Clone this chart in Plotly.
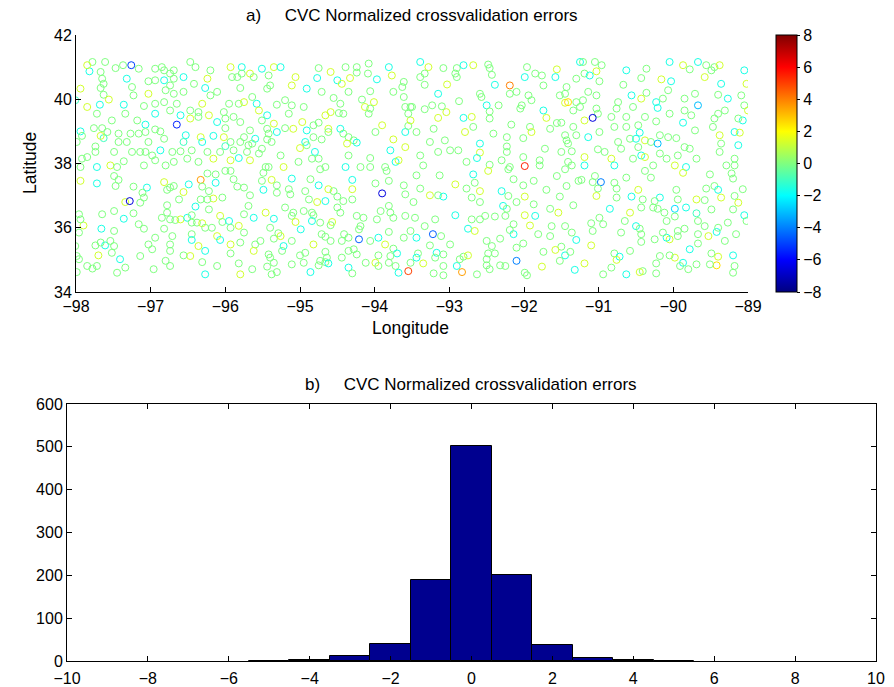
import plotly.graph_objects as go

# Station locations (lon, lat) and normalized cross-validation error, read region by region
STATIONS_NW = [
(-97.78,41.16,0),(-97.61,41.16,0),(-97.82,40.87,-1.6),(-97.85,41.06,1.3),(-97.67,40.85,0),(-97.47,40.97,0),(-97.37,41.06,0),(-97.26,41.06,-5),
(-97.16,40.95,0),(-96.94,40.95,0),(-96.85,41.00,0),(-96.82,40.90,0),(-96.74,40.80,0),(-96.69,40.90,0),(-96.47,41.16,0),(-96.40,41.00,0),
(-96.20,40.90,0),(-95.93,41.00,1.3),(-95.78,41.00,-1.6),(-95.78,40.80,0),(-95.91,40.69,0),(-95.84,40.69,0),(-96.24,40.64,1.3),(-96.56,40.69,-1.6),
(-96.69,40.64,0),(-96.82,40.59,-1.6),(-96.94,40.59,0),(-97.03,40.56,0),(-97.32,40.64,-1.6),(-97.65,40.64,0),(-97.63,40.48,0),(-97.94,40.33,1.3),
(-97.67,40.35,0),(-97.25,40.38,0),(-96.27,40.35,-1.6),(-96.42,40.48,0),(-95.80,40.35,0),(-96.80,40.28,0),(-96.69,40.17,0),(-96.56,40.23,0),
(-96.74,40.43,0),(-97.03,40.17,1.3),(-97.23,40.12,0),(-97.63,40.14,0),(-97.56,39.99,1.3),(-97.36,39.83,-1.6),(-98.01,39.97,-1),(-97.85,39.76,1.3),
(-97.68,39.83,-1.6),(-97.72,39.55,0),(-97.09,39.79,0),(-96.94,39.86,0),(-96.82,39.91,0),(-96.94,39.55,-1.6),(-96.74,39.65,0),(-96.60,39.50,-1.6),
(-96.65,39.86,0),(-96.47,39.65,0),(-96.36,39.60,0),(-96.36,39.45,0),(-96.22,39.50,1.3),(-96.20,40.12,0),(-96.11,40.23,0),(-96.31,39.86,1.3),
(-95.95,39.86,0),(-95.82,39.86,0),(-95.75,39.91,1.3),(-96.02,39.60,0),(-96.00,39.40,0),(-95.89,39.45,0),(-96.11,39.29,-1.6),(-95.80,39.29,0),
(-96.47,39.40,1.3),(-96.65,39.21,-5.5),(-97.07,39.21,-1.6),(-97.18,39.34,0),(-97.34,39.55,0),(-97.52,39.34,0),(-97.65,39.10,0),(-97.76,39.10,0),
(-97.94,39.00,-1.6),(-97.92,38.86,0),(-97.58,38.98,0),(-97.43,38.93,0),(-97.27,38.93,0),(-97.16,38.93,0),(-97.07,38.98,0),(-96.94,39.06,0),
(-96.87,39.00,0),(-96.53,38.88,-1.6),(-96.33,38.82,1.3),(-96.31,38.67,-1.6),(-96.16,38.86,-1.6),(-96.00,39.10,0),(-96.02,38.82,1.3),(-95.93,38.67,0),
(-95.80,38.67,0),(-95.75,38.82,0),(-96.00,38.54,-1),(-96.56,38.67,-1),(-96.82,38.77,0),(-97.03,38.67,0),(-97.32,38.67,0),(-97.43,38.67,0),
(-97.63,38.79,-1),(-97.67,38.86,1.3),(-97.74,38.53,0),(-97.99,38.67,0),(-97.85,38.20,0),(-97.92,38.15,0),(-97.74,38.36,0),(-97.49,38.36,0),
(-97.36,38.07,0),(-97.25,38.36,0),(-97.14,38.36,0),(-97.07,38.36,0),(-96.98,38.25,0),(-96.87,38.41,-1.6),(-96.71,38.36,0),(-96.60,38.38,0),
(-96.45,38.41,0),(-96.24,38.36,0),(-96.07,38.36,0),(-95.89,38.41,0),(-95.82,38.17,-1.6),(-95.93,38.10,1.3),(-96.16,38.15,1.3),(-96.36,38.05,0),
(-96.51,38.15,0),(-96.69,38.05,0),(-96.94,38.10,0),(-97.09,37.94,0),(-97.54,37.94,1.3),(-97.72,37.89,-1.6),(-97.45,37.89,0),(-97.94,37.89,0),
(-96.80,37.94,0),
]

STATIONS_NC = [
(-95.67,40.80,1.3),(-95.62,40.69,0),(-95.51,40.95,-1.6),(-95.42,40.74,0),(-95.35,41.00,1.3),(-95.26,41.00,-1.6),(-95.06,40.69,1.3),(-95.11,40.43,1.3),
(-95.40,40.43,0),(-95.44,40.33,0),(-94.91,40.33,-1.6),(-94.75,40.97,0),(-94.77,40.66,-1.6),(-94.59,40.85,1.3),(-94.50,40.59,-1.6),(-94.44,40.48,1.3),
(-94.39,41.00,0),(-94.33,40.66,1.3),(-94.24,41.00,0),(-94.24,40.83,0),(-94.08,41.11,0),(-94.09,40.80,0),(-93.97,40.62,-1.6),(-93.81,41.00,-1.6),
(-93.77,40.74,1.3),(-93.61,40.54,0),(-93.63,40.38,0),(-93.75,40.23,0),(-93.61,40.07,0),(-94.71,40.23,0),(-94.35,40.23,0),(-94.06,40.25,0),
(-94.55,40.04,0),(-94.46,39.86,0),(-94.59,39.60,1.3),(-94.48,39.57,0),(-94.42,39.55,0),(-94.17,39.99,0),(-94.13,39.76,1.3),(-94.01,39.91,1.3),
(-94.06,39.71,0),(-94.08,39.55,0),(-95.64,40.07,0),(-95.58,39.86,-1.6),(-95.55,39.65,1.3),(-95.31,39.83,0),(-95.20,39.97,0),(-95.11,39.81,0),
(-95.15,39.55,0),(-94.95,39.76,0),(-95.44,39.50,-1.6),(-95.51,39.34,0),(-95.67,39.03,0),(-95.35,39.24,1.3),(-95.31,38.98,-1.6),(-95.44,39.08,0),
(-95.42,38.93,0),(-95.20,39.10,0),(-95.09,39.08,1.3),(-94.97,39.29,1.3),(-94.91,39.03,-1.6),(-94.82,39.19,0),(-94.75,39.27,0),(-94.66,39.50,1.3),
(-94.62,39.08,1.3),(-94.62,38.98,0),(-94.46,39.08,-1.6),(-94.42,38.93,0),(-94.35,38.82,0),(-94.28,38.72,0),(-94.37,38.62,1.3),(-94.24,38.65,-1.6),
(-94.82,38.82,0),(-94.71,38.75,0),(-94.93,38.67,-1.6),(-94.91,38.57,0),(-95.00,38.48,1.3),(-94.80,38.36,-1.6),(-94.84,38.15,0),(-94.75,38.15,0),
(-95.26,38.25,0),(-95.44,38.75,0),(-95.38,38.67,0),(-95.60,38.77,-1.6),(-95.64,38.62,0),(-95.69,38.57,0),(-95.71,38.36,0),(-95.51,38.46,0),
(-95.55,38.31,0),(-95.67,38.10,1.3),(-95.46,37.89,0),(-95.42,37.89,0),(-95.22,37.89,1.3),(-95.02,38.05,0),(-94.66,37.89,0),(-94.39,37.89,-1.6),
(-94.35,38.25,0),(-94.06,38.17,0),(-93.99,38.98,0),(-93.90,39.19,1.3),(-93.75,38.75,1.3),(-93.59,38.98,-1.6),(-93.55,39.17,0),(-93.52,39.34,1.3),
(-93.55,39.55,0),(-93.52,39.76,0),(-93.59,39.76,0),(-93.79,38.41,-1.6),(-93.72,38.05,-1.6),(-93.68,38.10,1.3),(-93.59,38.51,1.3),(-93.86,37.89,0),
(-94.06,37.89,0),(-94.19,37.89,0),
]

STATIONS_NE1 = [
(-93.39,41.16,-1.6),(-93.28,41.00,1.3),(-93.39,40.69,0),(-93.33,40.80,0),(-93.33,40.45,0),(-93.08,40.97,0),(-92.90,40.97,0),(-92.81,41.06,-1.6),
(-92.68,41.06,1.3),(-92.92,40.80,0),(-92.90,40.69,0),(-92.48,41.08,0),(-92.46,40.97,0),(-92.43,40.76,0),(-92.39,40.45,-1.6),(-92.19,40.43,4),
(-91.96,41.00,0),(-91.99,40.69,-1.6),(-91.85,40.80,0),(-91.76,40.74,0),(-91.74,40.43,0),(-91.56,40.93,1.3),(-91.58,40.69,-1.6),(-91.43,40.38,0),
(-91.45,40.17,0),(-91.52,40.12,0),(-91.30,40.64,0),(-91.25,41.16,-1.6),(-93.03,40.46,1.3),(-93.15,40.17,-1.6),(-92.59,40.17,0),(-92.57,40.07,0),
(-92.87,39.94,0),(-92.19,40.17,0),(-92.10,40.23,0),(-91.94,40.12,0),(-92.03,39.81,0),(-92.05,39.71,0),(-91.90,39.97,0),(-91.45,39.89,1.3),
(-91.41,39.91,2.5),(-91.34,39.65,0),(-91.25,39.76,0),(-91.30,39.91,0),(-91.74,39.65,-1.6),(-91.70,39.42,1.3),(-91.56,39.26,0),(-91.50,39.27,0),
(-91.65,39.08,0),(-91.92,39.14,0),(-91.90,38.98,1.3),(-92.01,38.79,0),(-92.23,38.82,0),(-92.17,39.21,0),(-92.41,38.93,0),(-92.23,38.53,0),
(-92.23,38.36,0),(-92.59,38.62,-1.6),(-92.46,39.40,0),(-92.70,39.45,1.3),(-92.81,39.42,-1.6),(-92.68,39.14,0),(-92.79,38.98,1.3),(-93.04,39.60,1.3),
(-93.10,39.78,0),(-93.23,39.81,0),(-93.33,39.69,0),(-93.44,38.98,0),(-93.15,39.42,1.3),(-93.21,39.08,0),(-93.06,38.72,0),(-93.26,38.67,0),
(-92.99,38.41,0),(-92.88,38.41,0),(-93.15,38.36,0),(-93.39,38.25,0),(-93.35,37.94,0),(-92.59,38.34,1.3),(-92.63,38.17,-1.6),(-92.77,38.05,0),
(-92.46,37.96,0),(-92.30,38.10,0),(-92.19,37.89,0),(-91.99,37.92,5.5),(-92.01,38.20,0),(-91.79,38.10,0),(-91.79,37.94,0),(-91.72,38.46,0),
(-91.50,38.36,0),(-91.36,38.38,0),(-91.41,38.62,0),(-91.43,38.72,0),(-91.45,38.88,0),(-91.34,39.14,0),(-91.30,38.88,0),(-91.41,38.05,0),
(-91.36,37.94,0),(-92.50,39.81,-1.6),(-92.46,39.62,0),(-92.34,39.81,0),(-93.50,39.76,0),
]

STATIONS_NE2 = [
(-91.21,41.16,0),(-91.05,41.16,0),(-90.96,41.06,0),(-91.03,40.87,1.3),(-91.19,40.80,0),(-91.12,40.74,-1.6),(-90.99,40.56,0),(-90.63,40.90,-1.6),
(-90.67,40.45,0),(-90.43,40.66,0),(-90.36,40.95,0),(-90.05,41.16,-1.6),(-89.87,41.06,1.3),(-89.78,40.93,0),(-89.67,41.16,-1.6),(-90.16,40.62,1.3),
(-90.03,40.56,-1.6),(-90.07,40.28,0),(-90.36,40.20,0),(-90.56,40.12,-1.6),(-90.43,40.02,1.3),(-90.54,39.76,0),(-90.74,39.91,0),(-90.76,39.71,0),
(-91.03,40.12,0),(-91.14,40.23,0),(-91.21,39.97,0),(-91.03,39.71,0),(-91.01,39.55,0),(-91.08,39.42,-6.5),(-91.19,39.34,1.3),(-90.83,39.45,0),
(-90.63,39.45,0),(-90.23,39.91,-1.6),(-90.21,39.73,-1.6),(-90.14,40.02,0),(-89.85,40.02,0),(-89.71,40.17,0),(-89.67,39.81,-3),(-89.85,39.65,0),
(-89.76,39.50,0),(-89.87,39.27,-1.6),(-90.05,39.55,0),(-90.23,39.31,0),(-90.38,39.45,0),(-90.47,39.19,0),(-90.63,39.14,0),(-90.79,39.14,0),
(-90.99,38.98,0),(-91.14,38.82,-1.6),(-90.74,38.67,0),(-90.58,38.77,0),(-90.50,38.77,-1.6),(-90.45,38.96,-1.6),(-90.38,38.72,1.3),(-90.30,38.67,0),
(-90.21,38.62,-3),(-90.18,38.88,0),(-90.07,38.82,0),(-89.96,38.79,0),(-89.85,38.51,0),(-89.78,38.46,0),(-89.94,38.25,0),(-90.09,38.15,0),
(-90.18,38.31,0),(-90.43,38.25,-1.6),(-90.38,38.20,1.3),(-90.54,38.15,0),(-90.47,38.51,0),(-90.70,38.46,0),(-90.83,38.15,1.3),(-90.92,38.36,0),
(-91.01,38.44,0),(-91.19,38.20,1.3),(-91.19,37.94,-1.6),(-90.79,37.94,-1.6),(-90.27,37.94,0),(-89.98,37.94,1.3),(-89.83,37.89,-1.6),(-89.69,38.15,0),
(-89.49,40.90,0),(-89.45,41.00,0),(-89.38,41.06,1.3),(-89.36,40.48,-1.6),(-89.40,40.14,0),(-89.27,40.02,-1.6),(-89.05,40.90,-1.6),(-89.02,40.48,1.3),
(-89.09,40.12,0),(-89.05,39.81,0),(-89.00,39.65,1.3),(-89.07,39.34,-1.6),(-89.13,39.40,0),(-89.31,39.65,0),(-89.40,39.55,0),(-89.45,39.40,0),
(-89.47,39.14,0),(-89.71,39.03,0),(-89.38,38.88,1.3),(-89.36,38.62,0),(-89.38,38.36,0),(-89.18,38.98,-1.6),(-89.11,38.96,1.3),(-89.13,38.57,-1.6),
(-89.18,38.15,0),(-89.18,37.94,0),(-89.29,37.94,0),(-89.58,40.69,1.3),(-89.56,41.06,0),
]

STATIONS_SW = [
(-97.94,37.46,1.3),(-97.72,37.38,-1.6),(-97.47,37.30,0),(-97.49,37.61,0),(-97.43,37.49,0),(-97.23,37.28,0),(-97.05,37.25,-1.6),(-97.09,36.94,0),
(-97.14,36.78,0),(-97.11,37.09,0),(-97.34,36.80,1.3),(-97.28,36.83,-6.5),(-96.82,37.42,1.3),(-96.74,37.25,0),(-96.78,37.18,0),(-96.69,37.30,0),
(-96.56,37.11,1.3),(-96.49,37.35,-1.6),(-96.33,37.49,3.5),(-96.31,37.28,0),(-96.22,37.14,0),(-96.13,37.40,-1.6),(-96.13,37.66,0),(-96.24,37.69,0),
(-96.00,37.77,0),(-95.93,37.77,0),(-95.89,37.51,0),(-95.84,37.28,0),(-95.75,37.25,0),(-96.04,36.94,0),(-96.16,36.91,1.3),(-96.24,36.88,0),
(-96.33,36.88,0),(-96.22,36.57,0),(-96.40,36.66,-1.6),(-96.62,36.88,0),(-96.78,36.70,0),(-96.78,36.47,0),(-96.85,36.31,0),(-96.74,36.26,0),
(-96.67,36.24,0),(-96.60,36.26,1.3),(-96.51,36.31,-1.6),(-96.45,36.39,0),(-96.45,36.16,0),(-96.38,36.16,0),(-96.31,36.14,1.3),(-96.27,36.00,0),
(-96.18,36.00,0),(-96.07,36.37,1.3),(-96.04,36.18,0),(-95.95,36.21,-1.6),(-95.93,36.00,0),(-95.82,36.06,1.3),(-95.75,36.42,0),(-95.75,35.85,0),
(-96.11,35.74,1.3),(-96.07,35.62,-1.6),(-95.93,35.48,1.3),(-95.80,35.54,0),(-96.45,35.80,0),(-96.45,35.62,-1.6),(-96.36,35.43,1.3),(-96.27,35.28,-1.6),
(-96.47,35.12,1.3),(-96.56,35.14,0),(-96.31,34.93,0),(-96.11,34.81,0),(-95.93,35.20,0),(-95.82,34.89,0),(-95.80,34.55,1.3),(-96.27,34.55,-1.6),
(-96.74,35.48,0),(-96.71,35.74,0),(-96.82,35.97,0),(-96.94,35.69,0),(-97.03,35.48,0),(-96.98,35.33,0),(-96.74,35.28,0),(-96.80,34.97,0),
(-96.74,34.81,0),(-96.96,34.71,0),(-97.14,35.12,0),(-97.34,34.76,0),(-97.41,35.02,-1.6),(-97.45,34.60,0),(-97.52,35.22,0),(-97.61,35.45,-1.6),
(-97.67,35.54,0),(-97.74,35.45,0),(-97.70,35.14,1.3),(-97.72,34.81,0),(-97.85,34.81,0),(-97.78,34.73,0),(-97.99,35.12,0),(-97.96,35.02,0),
(-98.01,35.43,0),(-97.96,35.85,0),(-97.90,36.07,1.3),(-97.94,36.26,0),(-97.96,36.42,0),(-97.65,36.42,0),(-97.49,36.52,0),(-97.36,36.28,-1.6),
(-97.23,36.45,0),(-97.16,36.11,0),(-97.09,35.97,0),(-97.66,35.97,-1.6),(-97.49,35.90,0),(-97.54,35.59,0),(-97.49,35.43,0),(-97.99,34.62,0),
]

STATIONS_SC = [
(-95.49,37.71,0),(-95.51,37.46,0),(-95.38,37.49,1.3),(-95.31,37.32,0),(-95.11,37.53,-1.6),(-94.73,37.82,0),(-94.86,37.51,0),(-94.75,37.32,-1.6),
(-94.62,37.20,1.3),(-94.55,37.14,0),(-94.30,37.49,-1.6),(-93.84,37.77,0),(-93.81,37.46,0),(-93.99,37.38,0),(-93.90,37.07,-6.5),(-93.61,37.32,0),
(-93.59,37.04,0),(-94.30,37.20,1.3),(-94.30,36.88,0),(-94.42,36.83,0),(-94.50,36.97,0),(-94.66,36.83,-1.6),(-94.77,36.80,1.3),(-94.88,36.88,0),
(-94.93,37.14,0),(-95.15,37.20,0),(-95.13,37.04,0),(-95.31,37.09,0),(-95.49,37.18,-1.6),(-95.67,37.01,0),(-95.69,36.68,0),(-95.62,36.31,-1.6),
(-95.46,36.47,1.3),(-95.35,36.28,-1.6),(-95.20,36.63,0),(-95.09,36.47,0),(-95.11,36.37,0),(-94.95,36.52,0),(-94.84,36.47,0),(-94.82,36.39,0),
(-94.84,36.21,-1.6),(-95.06,36.18,1.3),(-94.99,35.95,-1.6),(-94.73,36.16,0),(-94.57,36.18,1.3),(-94.59,36.08,0),(-94.50,36.63,0),(-94.46,36.47,0),
(-94.24,36.37,0),(-94.15,36.31,0),(-94.19,36.05,0),(-94.21,35.95,0),(-93.97,36.26,0),(-93.92,36.52,0),(-93.81,36.68,0),(-93.79,36.47,0),
(-93.75,36.31,0),(-93.59,36.37,0),(-93.52,35.90,0),(-93.61,35.69,0),(-93.81,35.87,0),(-93.95,35.69,-1.6),(-94.06,35.59,0),(-93.86,35.48,1.3),
(-93.75,35.35,0),(-93.70,35.20,-1.6),(-93.79,35.12,0),(-93.95,35.14,0),(-93.99,34.91,1.3),(-93.95,34.81,0),(-93.81,34.91,0),(-93.72,34.81,0),
(-93.68,34.60,-1.6),(-93.55,34.65,5),(-93.52,34.91,0),(-94.21,35.64,-4.5),(-94.41,35.80,0),(-94.35,35.69,0),(-94.44,35.59,0),(-94.28,35.33,0),
(-94.35,35.28,0),(-94.24,35.17,0),(-94.12,34.91,0),(-94.35,34.76,-1.6),(-94.30,34.58,0),(-94.44,35.07,0),(-94.66,35.25,0),(-94.64,35.07,0),
(-94.66,34.93,0),(-94.62,34.89,-1.6),(-94.73,34.97,0),(-94.82,35.48,1.3),(-94.71,35.80,0),(-94.66,35.72,0),(-94.59,35.59,0),(-94.93,35.22,0),
(-94.95,34.91,0),(-95.00,35.14,0),(-95.11,35.59,0),(-95.22,35.43,-1.6),(-95.24,35.28,0),(-95.35,35.66,0),(-95.29,35.83,0),(-95.26,35.74,1.3),
(-95.40,36.00,0),(-95.53,35.59,0),(-95.60,35.48,0),(-95.62,35.28,1.3),(-95.42,35.17,0),(-95.40,35.07,0),(-95.35,34.91,0),(-95.44,34.79,0),
(-95.31,34.62,0),(-95.38,34.55,0),(-95.64,34.71,0),(-94.86,34.62,-1.6),(-95.11,34.86,0),(-94.75,34.83,0),
]

STATIONS_SE1 = [
(-93.44,37.63,0),(-93.13,37.63,0),(-93.39,37.22,0),(-93.48,36.80,0),(-93.46,36.31,0),(-93.44,35.69,-1.6),(-93.33,36.05,0),(-93.19,36.26,0),
(-93.22,35.80,-4.5),(-93.11,35.74,0),(-93.26,35.45,0),(-93.42,35.20,0),(-93.35,34.89,1.3),(-93.44,35.07,-1.6),(-93.17,35.22,-1.6),(-93.19,35.07,0),
(-93.08,35.17,0),(-92.99,35.48,0),(-93.08,34.81,0),(-93.21,34.58,0),(-93.08,34.52,0),(-92.90,34.81,-1.6),(-92.83,34.62,3.5),(-92.86,35.02,0),
(-92.81,35.10,0),(-92.75,35.14,1.3),(-92.63,34.55,0),(-93.15,37.01,0),(-93.26,37.01,1.3),(-93.08,36.97,-1.6),(-92.92,37.35,1.3),(-92.77,37.22,0),
(-92.66,37.40,0),(-92.68,37.66,-1.6),(-92.48,37.77,1.3),(-92.59,37.14,1.3),(-92.70,36.94,0),(-92.59,36.80,0),(-92.92,36.39,-1.6),(-92.70,36.26,0),
(-92.75,35.97,-1.6),(-92.66,35.90,1.3),(-92.59,36.26,0),(-92.52,36.37,0),(-92.39,36.35,0),(-92.25,36.37,0),(-92.28,36.68,-1.6),(-92.23,36.59,0),
(-92.21,36.99,0),(-92.30,37.14,-1.6),(-92.14,37.51,0),(-92.21,37.82,0),(-92.01,37.32,0),(-91.87,37.46,0),(-91.99,36.97,1.3),(-92.10,36.80,0),
(-91.99,36.39,1.3),(-91.85,36.37,-1.6),(-91.87,36.73,0),(-91.70,37.18,0),(-91.56,37.61,0),(-91.45,37.82,0),(-91.43,37.30,0),(-91.52,36.97,0),
(-91.27,37.46,0),(-91.34,36.70,0),(-91.54,36.47,1.3),(-91.65,36.59,0),(-91.92,36.07,1.3),(-91.81,35.80,0),(-91.65,35.74,0),(-91.63,36.05,0),
(-91.45,36.05,0),(-91.36,35.85,0),(-91.30,35.62,-1.6),(-91.50,35.41,0),(-91.58,35.31,1.3),(-91.45,35.14,-1.6),(-91.38,35.25,0),(-91.74,35.25,0),
(-92.10,35.38,0),(-92.01,35.51,0),(-92.14,35.80,-1.6),(-92.19,35.93,0),(-92.14,36.11,0),(-92.32,35.66,0),(-92.50,35.59,0),(-92.43,35.43,0),
(-92.48,35.20,0),(-92.39,35.20,0),(-92.50,35.02,0),(-92.50,34.83,0),(-92.46,34.71,0),(-92.32,34.83,0),(-92.25,34.81,0),(-92.10,34.97,-4),
(-91.99,34.60,0),(-91.96,34.52,0),(-91.76,34.79,1.3),(-91.52,34.97,0),(-91.32,34.69,-1.6),
]

STATIONS_SE2 = [
(-91.05,37.61,0),(-91.08,37.42,0),(-90.97,37.42,-4),(-91.01,37.22,0),(-91.03,36.99,1.3),(-90.79,37.40,0),(-90.76,37.22,0),(-90.63,37.56,0),
(-90.76,36.94,0),(-90.56,36.97,-1.6),(-90.47,37.18,1.3),(-90.38,37.77,0),(-90.30,37.56,0),(-89.87,37.71,1.3),(-89.51,37.66,0),(-89.56,37.22,0),
(-89.45,37.30,0),(-89.40,37.18,-1.6),(-89.36,36.94,1.3),(-89.22,37.69,0),(-89.20,37.53,0),(-89.18,36.99,0),(-89.13,36.78,1.3),(-89.07,37.20,0),
(-89.05,36.39,-1.6),(-89.02,36.21,0),(-89.20,36.57,0),(-89.49,36.57,0),(-89.58,36.86,0),(-89.69,36.88,1.3),(-89.69,36.45,-1),(-89.67,36.21,0),
(-89.83,36.63,-1.6),(-89.98,36.59,-2.5),(-89.94,36.88,0),(-89.96,37.18,0),(-90.18,36.94,-1.6),(-90.25,36.83,0),(-90.27,36.63,0),(-90.21,36.59,0),
(-90.12,36.47,0),(-90.09,36.21,0),(-89.98,36.35,0),(-89.94,35.90,0),(-89.85,35.97,0),(-89.94,35.74,0),(-90.05,35.64,1.3),(-90.09,35.69,-1.6),
(-90.14,35.85,0),(-90.25,35.64,0),(-90.41,36.88,0),(-90.43,36.63,0),(-90.58,36.47,1.3),(-90.65,36.21,0),(-90.70,35.85,0),(-90.50,36.05,-1.6),
(-90.45,35.97,0),(-90.43,35.80,0),(-90.43,35.56,0),(-90.58,35.28,0),(-90.79,35.20,0),(-90.72,35.10,-1.6),(-90.76,35.00,1.3),(-90.94,36.11,0),
(-91.10,36.14,0),(-91.08,35.90,0),(-91.10,35.45,1.3),(-91.23,37.49,0),(-90.85,36.59,-1.6),(-90.99,36.31,0),(-89.67,35.80,0),(-89.58,36.05,0),
(-89.42,35.87,-1.6),(-89.53,35.74,1.3),(-89.40,36.00,0),(-89.27,36.16,0),(-89.16,35.80,0),(-89.31,35.59,0),(-89.78,35.33,-1.6),(-89.67,35.51,0),
(-89.49,35.20,0),(-89.40,35.10,1.3),(-89.42,34.83,2.5),(-89.20,35.14,-1.6),(-89.18,34.81,0),(-89.20,34.60,0),(-89.51,34.86,0),(-89.69,34.86,0),
(-89.87,34.91,-1.6),(-89.80,34.71,0),(-89.91,34.81,0),(-89.98,35.07,1.3),(-90.05,35.14,0),(-90.18,35.12,0),(-90.23,34.89,0),(-90.23,34.58,0),
(-90.41,34.65,0),(-90.45,34.62,1.3),(-90.63,34.55,-1.6),(-90.83,34.76,0),(-90.94,34.55,0),(-91.19,34.89,1.3),
]

# Histogram of the errors: bin centres and counts
HIST_CENTERS = [-5, -4, -3, -2, -1, 0, 1, 2, 3, 4, 5]
HIST_COUNTS = [1, 2, 12, 40, 190, 503, 201, 38, 8, 3, 1]

LON_TICKS = list(range(-98, -88))
LAT_TICKS = [34, 36, 38, 40, 42]
CBAR_TICKS = list(range(-8, 9, 2))
HIST_X_TICKS = list(range(-10, 11, 2))
HIST_Y_TICKS = list(range(0, 601, 100))

stations = (STATIONS_NW + STATIONS_NC + STATIONS_NE1 + STATIONS_NE2 +
            STATIONS_SW + STATIONS_SC + STATIONS_SE1 + STATIONS_SE2)
lon = [p[0] for p in stations]
lat = [p[1] for p in stations]
err = [p[2] for p in stations]

W, H = 894, 687
FONT = "Liberation Sans, Arial, Helvetica, sans-serif"

JET = [[0.0, "rgb(0,0,128)"], [0.125, "rgb(0,0,255)"], [0.375, "rgb(0,255,255)"],
       [0.625, "rgb(255,255,0)"], [0.875, "rgb(255,0,0)"], [1.0, "rgb(128,0,0)"]]

def px_x(p):
    return p / W

def px_y(p):
    return 1 - p / H

fig = go.Figure()
fig.add_trace(go.Scatter(
    x=lon, y=lat, mode="markers", xaxis="x", yaxis="y", showlegend=False, hoverinfo="skip",
    marker=dict(symbol="circle-open", size=7, color=err, cmin=-8, cmax=8, colorscale=JET,
                line=dict(width=1), showscale=True,
                colorbar=dict(x=px_x(776), xanchor="left", y=px_y(292), yanchor="bottom",
                              len=(292 - 35) / H, lenmode="fraction", thickness=21,
                              thicknessmode="pixels", outlinewidth=1, outlinecolor="black",
                              tickvals=CBAR_TICKS, ticks="outside", ticklen=3, tickcolor="black",
                              tickfont=dict(family=FONT, size=16, color="black"),
                              xpad=0, ypad=0))))

fig.add_trace(go.Bar(
    x=HIST_CENTERS, y=HIST_COUNTS, width=1, xaxis="x2", yaxis="y2", showlegend=False,
    marker=dict(color="rgb(0,0,143)", line=dict(color="black", width=1))))

axis_common = dict(showgrid=False, zeroline=False, showline=True, linecolor="black", linewidth=1,
                   ticks="inside", ticklen=5, tickcolor="black",
                   tickfont=dict(family=FONT, size=16, color="black"))

SP = "\u00a0" * 5
fig.update_layout(
    width=W, height=H, margin=dict(l=0, r=0, t=0, b=0, autoexpand=False),
    paper_bgcolor="white", plot_bgcolor="white",
    xaxis=dict(domain=[px_x(76), px_x(748)], range=[-98, -89], tickvals=LON_TICKS,
               anchor="y", **axis_common),
    yaxis=dict(domain=[px_y(292), px_y(35)], range=[34, 42], tickvals=LAT_TICKS,
               anchor="x", **axis_common),
    xaxis2=dict(domain=[px_x(67), px_x(876)], range=[-10, 10], tickvals=HIST_X_TICKS,
                anchor="y2", mirror="ticks", ticklabelstandoff=3, **axis_common),
    yaxis2=dict(domain=[px_y(661), px_y(404)], range=[0, 600], tickvals=HIST_Y_TICKS,
                anchor="x2", mirror="ticks", **axis_common),
    bargap=0,
    annotations=[
        dict(text="a)" + SP + "CVC Normalized crossvalidation errors", x=px_x(412), y=px_y(16),
             xref="paper", yref="paper", showarrow=False, xanchor="center", yanchor="middle",
             font=dict(family=FONT, size=17, color="black")),
        dict(text="b)" + SP + "CVC Normalized crossvalidation errors", x=px_x(471), y=px_y(384),
             xref="paper", yref="paper", showarrow=False, xanchor="center", yanchor="middle",
             font=dict(family=FONT, size=17, color="black")),
        dict(text="Longitude", x=px_x(410), y=px_y(328), xref="paper", yref="paper",
             showarrow=False, xanchor="center", yanchor="middle",
             font=dict(family=FONT, size=17.5, color="black")),
        dict(text="Latitude", x=px_x(30), y=px_y(163), xref="paper", yref="paper",
             showarrow=False, xanchor="center", yanchor="middle", textangle=-90,
             font=dict(family=FONT, size=17.5, color="black")),
    ],
)

fig.write_html("out.html")
